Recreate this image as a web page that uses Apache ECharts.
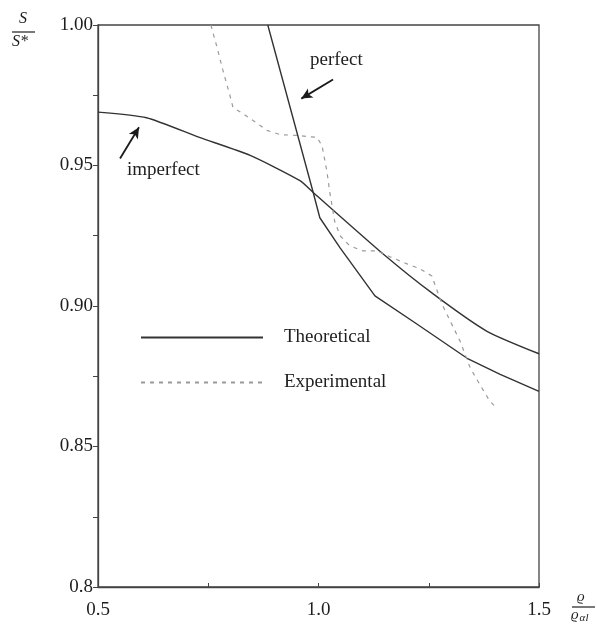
<!DOCTYPE html>
<html>
<head>
<meta charset="utf-8">
<script src="https://cdn.jsdelivr.net/npm/echarts@6/dist/echarts.min.js"></script>
<style>
  html, body { margin: 0; padding: 0; background: #fff; }
  #chart { width: 597px; height: 631px; }
</style>
</head>
<body>
<div id="chart"></div>
<script>
// Relative density (x) vs. S/S* (y)
const xTickLabels = ['0.5', '1.0', '1.5'];
const yTickLabels = ['0.8', '0.85', '0.90', '0.95', '1.00'];

// Theoretical curve, imperfect lattice
const imperfectX = [0.50, 0.61, 0.73, 0.845, 0.958, 0.988, 1.146, 1.26, 1.382, 1.50];
const imperfectY = [0.969, 0.967, 0.960, 0.9536, 0.9446, 0.9404, 0.9186, 0.9043, 0.891, 0.883];

// Theoretical curve, perfect lattice
const perfectX = [0.885, 0.988, 1.003, 1.049, 1.128, 1.223, 1.337, 1.412, 1.50];
const perfectY = [1.000, 0.9404, 0.9314, 0.9207, 0.9036, 0.8936, 0.8814, 0.8757, 0.8696];

// Measured values
const experimentalX = [0.756, 0.770, 0.783, 0.799, 0.806, 0.833, 0.861, 0.883, 0.913, 0.951, 0.997,
  1.008, 1.019, 1.026, 1.037, 1.049, 1.071, 1.101, 1.133, 1.162, 1.201, 1.230, 1.257, 1.269,
  1.282, 1.321, 1.344, 1.366, 1.389, 1.405];
const experimentalY = [1.000, 0.992, 0.984, 0.975, 0.9707, 0.968, 0.965, 0.9625, 0.961, 0.9607, 0.960,
  0.957, 0.948, 0.940, 0.930, 0.925, 0.9214, 0.9196, 0.9196, 0.9175, 0.915, 0.9132, 0.9107, 0.9054,
  0.900, 0.8875, 0.878, 0.872, 0.866, 0.8636];

const pair = (xs, ys) => xs.map((x, i) => [x, ys[i]]);

const FONT = 'Liberation Serif';
const INK = '#1e1e1e';
const SIZE = 19;

const chart = echarts.init(document.getElementById('chart'), null, { renderer: 'canvas' });

const arrow = (from, to) => ({
  silent: true, symbol: ['none', 'arrow'], symbolSize: [8, 11],
  label: { show: false },
  lineStyle: { color: '#1a1a1a', width: 1.8, type: 'solid' },
  data: [[{ coord: from }, { coord: to }]]
});

chart.setOption({
  backgroundColor: '#fff',
  animation: false,
  grid: {
    left: 98, right: 58, top: 25, bottom: 44,
    show: true, borderColor: '#444', borderWidth: 1.3
  },
  xAxis: {
    type: 'value', min: 0.5, max: 1.5, interval: 0.5,
    axisLine: { lineStyle: { color: '#444', width: 1.3 } },
    axisTick: { inside: true, length: 4, lineStyle: { color: '#444' } },
    minorTick: { show: true, splitNumber: 2, length: 4, lineStyle: { color: '#444' } },
    splitLine: { show: false },
    axisLabel: {
      color: INK, fontFamily: FONT, fontSize: SIZE, margin: 14,
      formatter: v => xTickLabels[Math.round((v - 0.5) / 0.5)]
    }
  },
  yAxis: {
    type: 'value', min: 0.8, max: 1.0, interval: 0.05,
    axisLine: { lineStyle: { color: '#444', width: 1.3 } },
    axisTick: { inside: false, length: 5, lineStyle: { color: '#444' } },
    minorTick: { show: true, splitNumber: 2, length: 5, lineStyle: { color: '#444' } },
    splitLine: { show: false },
    axisLabel: {
      color: INK, fontFamily: FONT, fontSize: SIZE, margin: 5,
      formatter: v => yTickLabels[Math.round((v - 0.8) / 0.05)]
    }
  },
  legend: {
    orient: 'vertical', left: 135, top: 323, itemGap: 26,
    itemWidth: 122, itemHeight: 14,
    itemStyle: { opacity: 0 },
    data: ['Theoretical', 'Experimental'],
    textStyle: { color: INK, fontFamily: FONT, fontSize: SIZE, padding: [0, 0, 0, 16] }
  },
  series: [
    {
      name: 'Theoretical', type: 'line', data: pair(imperfectX, imperfectY),
      symbol: 'none', smooth: 0.2, color: '#333',
      lineStyle: { color: '#333', width: 1.4 },
      markLine: arrow([0.55, 0.9525], [0.593, 0.9636])
    },
    {
      name: 'Theoretical', type: 'line', data: pair(perfectX, perfectY),
      symbol: 'none', color: '#333',
      lineStyle: { color: '#333', width: 1.4 },
      markLine: arrow([1.033, 0.9806], [0.961, 0.9738])
    },
    {
      name: 'Experimental', type: 'line', data: pair(experimentalX, experimentalY),
      symbol: 'none', color: '#9a9a9a',
      lineStyle: { color: '#9a9a9a', width: 1.2, type: [4, 5] }
    }
  ],
  graphic: [
    { type: 'text', left: 310, top: 51, style: { text: 'perfect', fill: INK, font: SIZE + 'px "Liberation Serif"' } },
    { type: 'text', left: 127, top: 161, style: { text: 'imperfect', fill: INK, font: SIZE + 'px "Liberation Serif"' } },
    // y-axis name: S / S*
    { type: 'text', left: 19, top: 11, style: { text: 'S', fill: INK, font: 'italic 16px "Liberation Serif"' } },
    { type: 'line', shape: { x1: 12, y1: 32, x2: 35, y2: 32 }, style: { stroke: INK, lineWidth: 1.2 } },
    { type: 'text', left: 12, top: 34, style: { text: 'S*', fill: INK, font: 'italic 16px "Liberation Serif"' } },
    // x-axis name: ϱ / ϱ_αl
    { type: 'text', left: 577, top: 590, style: { text: 'ϱ', fill: INK, font: 'italic 15px "Liberation Serif"' } },
    { type: 'line', shape: { x1: 572, y1: 607, x2: 595, y2: 607 }, style: { stroke: INK, lineWidth: 1.2 } },
    { type: 'text', left: 571, top: 608, style: {
        text: '{a|ϱ}{b|αl}', fill: INK,
        rich: {
          a: { fontFamily: FONT, fontStyle: 'italic', fontSize: 15, fill: INK },
          b: { fontFamily: FONT, fontStyle: 'italic', fontSize: 11, fill: INK, padding: [6, 0, 0, 1] }
        }
    } }
  ]
});
</script>
</body>
</html>
